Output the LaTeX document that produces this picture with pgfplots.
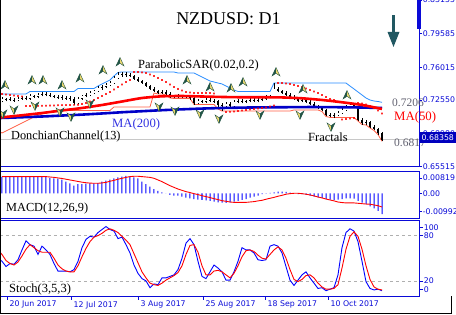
\documentclass[border=0pt]{standalone}
\usepackage{pgfplots}
\pgfplotsset{compat=1.18}
\usepackage{pgfplotstable}
\usepackage{fontspec}
\setmainfont{Liberation Serif}
\newfontfamily\tickfont{DejaVu Sans}
\definecolor{axblue}{RGB}{10,10,215}
\definecolor{boxblue}{RGB}{0,0,190}
\definecolor{ma200c}{RGB}{0,0,200}
\definecolor{ma200t}{RGB}{50,50,225}
\definecolor{ma50c}{RGB}{255,0,0}
\definecolor{donup}{RGB}{40,140,255}
\definecolor{donlo}{RGB}{255,95,70}
\definecolor{fracdark}{RGB}{35,85,70}
\definecolor{fraclight}{RGB}{235,215,110}
\definecolor{arrowc}{RGB}{33,88,98}
\definecolor{labgray}{RGB}{95,95,110}

\pgfdeclareplotmark{fup}{%
  \pgfsetlinewidth{0.4pt}%
  \pgfpathmoveto{\pgfqpoint{0pt}{4.5pt}}\pgfpathlineto{\pgfqpoint{-4pt}{-4pt}}\pgfpathlineto{\pgfqpoint{0pt}{-1.3pt}}\pgfpathclose
  \pgfsetfillcolor{fracdark}\pgfusepath{fill}%
  \pgfpathmoveto{\pgfqpoint{0pt}{4.5pt}}\pgfpathlineto{\pgfqpoint{4pt}{-4pt}}\pgfpathlineto{\pgfqpoint{0pt}{-1.3pt}}\pgfpathclose
  \pgfsetfillcolor{fraclight}\pgfusepath{fill}%
  \pgfpathmoveto{\pgfqpoint{0pt}{4.5pt}}\pgfpathlineto{\pgfqpoint{-4pt}{-4pt}}\pgfpathlineto{\pgfqpoint{0pt}{-1.3pt}}\pgfpathlineto{\pgfqpoint{4pt}{-4pt}}\pgfpathclose
  \pgfsetstrokecolor{fracdark}\pgfusepath{stroke}}
\pgfdeclareplotmark{fdown}{%
  \pgfsetlinewidth{0.4pt}%
  \pgfpathmoveto{\pgfqpoint{0pt}{-4.5pt}}\pgfpathlineto{\pgfqpoint{-4pt}{4pt}}\pgfpathlineto{\pgfqpoint{0pt}{1.3pt}}\pgfpathclose
  \pgfsetfillcolor{fraclight}\pgfusepath{fill}%
  \pgfpathmoveto{\pgfqpoint{0pt}{-4.5pt}}\pgfpathlineto{\pgfqpoint{4pt}{4pt}}\pgfpathlineto{\pgfqpoint{0pt}{1.3pt}}\pgfpathclose
  \pgfsetfillcolor{fracdark}\pgfusepath{fill}%
  \pgfpathmoveto{\pgfqpoint{0pt}{-4.5pt}}\pgfpathlineto{\pgfqpoint{-4pt}{4pt}}\pgfpathlineto{\pgfqpoint{0pt}{1.3pt}}\pgfpathlineto{\pgfqpoint{4pt}{4pt}}\pgfpathclose
  \pgfsetstrokecolor{fracdark}\pgfusepath{stroke}}

\pgfplotstableread{
i o h l c
0 0.7244 0.7282 0.7229 0.7266
1 0.7266 0.7276 0.7239 0.7255
2 0.7255 0.7282 0.7239 0.7260
3 0.7260 0.7276 0.7234 0.7250
4 0.7250 0.7287 0.7239 0.7266
5 0.7266 0.7292 0.7255 0.7276
6 0.7276 0.7292 0.7250 0.7266
7 0.7266 0.7319 0.7255 0.7297
8 0.7297 0.7313 0.7271 0.7287
9 0.7287 0.7324 0.7276 0.7308
10 0.7308 0.7335 0.7292 0.7319
11 0.7319 0.7335 0.7292 0.7308
12 0.7308 0.7324 0.7282 0.7297
13 0.7297 0.7313 0.7271 0.7287
14 0.7287 0.7303 0.7266 0.7282
15 0.7282 0.7308 0.7260 0.7276
16 0.7276 0.7297 0.7255 0.7271
17 0.7271 0.7292 0.7244 0.7266
18 0.7266 0.7282 0.7207 0.7223
19 0.7223 0.7282 0.7213 0.7266
20 0.7266 0.7313 0.7255 0.7297
21 0.7297 0.7329 0.7282 0.7308
22 0.7308 0.7345 0.7297 0.7329
23 0.7329 0.7366 0.7319 0.7350
24 0.7350 0.7403 0.7340 0.7382
25 0.7382 0.7414 0.7366 0.7393
26 0.7393 0.7435 0.7382 0.7414
27 0.7414 0.7456 0.7403 0.7435
28 0.7435 0.7509 0.7425 0.7488
29 0.7488 0.7547 0.7478 0.7520
30 0.7520 0.7552 0.7499 0.7531
31 0.7531 0.7547 0.7499 0.7515
32 0.7515 0.7536 0.7494 0.7509
33 0.7509 0.7525 0.7467 0.7478
34 0.7478 0.7494 0.7446 0.7456
35 0.7456 0.7472 0.7425 0.7435
36 0.7435 0.7446 0.7393 0.7403
37 0.7403 0.7419 0.7361 0.7372
38 0.7372 0.7388 0.7340 0.7350
39 0.7350 0.7366 0.7319 0.7329
40 0.7329 0.7361 0.7319 0.7340
41 0.7340 0.7356 0.7308 0.7319
42 0.7319 0.7335 0.7276 0.7287
43 0.7287 0.7313 0.7271 0.7297
44 0.7297 0.7319 0.7271 0.7287
45 0.7287 0.7313 0.7271 0.7297
46 0.7297 0.7313 0.7271 0.7287
47 0.7287 0.7308 0.7260 0.7276
48 0.7276 0.7287 0.7207 0.7223
49 0.7223 0.7266 0.7213 0.7244
50 0.7244 0.7260 0.7218 0.7234
51 0.7234 0.7271 0.7223 0.7255
52 0.7255 0.7271 0.7229 0.7244
53 0.7244 0.7266 0.7223 0.7239
54 0.7239 0.7255 0.7160 0.7202
55 0.7202 0.7218 0.7138 0.7191
56 0.7191 0.7229 0.7181 0.7213
57 0.7213 0.7229 0.7175 0.7191
58 0.7191 0.7250 0.7181 0.7234
59 0.7234 0.7266 0.7218 0.7244
60 0.7244 0.7266 0.7218 0.7234
61 0.7234 0.7260 0.7223 0.7244
62 0.7244 0.7276 0.7229 0.7255
63 0.7255 0.7271 0.7229 0.7244
64 0.7244 0.7276 0.7229 0.7255
65 0.7255 0.7282 0.7239 0.7266
66 0.7266 0.7303 0.7255 0.7287
67 0.7287 0.7313 0.7271 0.7297
68 0.7297 0.7435 0.7287 0.7372
69 0.7372 0.7393 0.7335 0.7350
70 0.7350 0.7366 0.7319 0.7329
71 0.7329 0.7345 0.7297 0.7308
72 0.7308 0.7324 0.7276 0.7287
73 0.7287 0.7303 0.7255 0.7266
74 0.7266 0.7282 0.7234 0.7244
75 0.7244 0.7271 0.7229 0.7255
76 0.7255 0.7271 0.7223 0.7234
77 0.7234 0.7250 0.7202 0.7213
78 0.7213 0.7229 0.7175 0.7191
79 0.7191 0.7207 0.7160 0.7170
80 0.7170 0.7186 0.7133 0.7149
81 0.7149 0.7160 0.7080 0.7096
82 0.7096 0.7112 0.7070 0.7085
83 0.7085 0.7112 0.7064 0.7096
84 0.7096 0.7133 0.7080 0.7117
85 0.7117 0.7165 0.7107 0.7149
86 0.7149 0.7202 0.7138 0.7181
87 0.7181 0.7223 0.7165 0.7202
88 0.7202 0.7218 0.7170 0.7181
89 0.7181 0.7191 0.7032 0.7043
90 0.7043 0.7059 0.6995 0.7011
91 0.7011 0.7043 0.6990 0.7022
92 0.7022 0.7032 0.6958 0.6969
93 0.6969 0.6985 0.6932 0.6948
94 0.6948 0.6958 0.6889 0.6905
95 0.6905 0.6916 0.6817 0.6836
}\candles

\pgfplotstableread{
i up lo
-0.5 0.7319 0.6915
0 0.7319 0.6905
1 0.7319 0.6926
2 0.7319 0.6948
3 0.7319 0.6969
4 0.7319 0.6990
5 0.7319 0.7011
6 0.7319 0.7032
7 0.7345 0.7054
8 0.7345 0.7075
9 0.7345 0.7091
10 0.7345 0.7107
11 0.7345 0.7117
12 0.7345 0.7128
13 0.7345 0.7144
18 0.7345 0.7144
19 0.7377 0.7144
23 0.7377 0.7144
24 0.7403 0.7144
25 0.7425 0.7144
26 0.7446 0.7144
27 0.7467 0.7144
28 0.7509 0.7181
29 0.7547 0.7181
30 0.7552 0.7181
37 0.7552 0.7181
38 0.7552 0.7329
39 0.7552 0.7319
40 0.7552 0.7319
41 0.7552 0.7308
42 0.7552 0.7276
43 0.7552 0.7271
44 0.7541 0.7271
47 0.7541 0.7271
48 0.7541 0.7207
49 0.7520 0.7207
50 0.7499 0.7207
51 0.7478 0.7207
52 0.7456 0.7207
53 0.7446 0.7207
54 0.7435 0.7160
55 0.7425 0.7138
56 0.7403 0.7138
57 0.7382 0.7138
58 0.7361 0.7138
59 0.7345 0.7138
67 0.7345 0.7138
68 0.7435 0.7138
72 0.7435 0.7138
73 0.7435 0.7149
79 0.7435 0.7149
80 0.7435 0.7133
81 0.7435 0.7080
82 0.7435 0.7070
86 0.7435 0.7070
87 0.7403 0.7070
88 0.7372 0.7070
89 0.7340 0.7032
90 0.7308 0.6995
91 0.7276 0.6990
92 0.7255 0.6958
93 0.7244 0.6932
94 0.7239 0.6889
95 0.7230 0.6817
}\donch

\pgfplotstableread{
i m50 m200
-0.5 0.7069 0.7064
5 0.7093 0.7072
10 0.7117 0.7080
15 0.7144 0.7090
20 0.7170 0.7100
25 0.7202 0.7112
30 0.7239 0.7125
35 0.7276 0.7136
40 0.7294 0.7147
45 0.7297 0.7156
50 0.7292 0.7164
55 0.7287 0.7170
60 0.7284 0.7174
65 0.7284 0.7177
70 0.7282 0.7178
75 0.7273 0.7180
80 0.7255 0.7180
85 0.7231 0.7178
90 0.7202 0.7175
95 0.7160 0.7170
}\mas

\pgfplotstableread{
i s
0 0.7319
1 0.7313
2 0.7308
3 0.7303
4 0.7297
5 0.7292
6 0.7191
7 0.7191
8 0.7192
9 0.7193
10 0.7194
11 0.7195
12 0.7196
13 0.7197
14 0.7199
15 0.7200
16 0.7201
17 0.7202
18 0.7203
19 0.7205
20 0.7213
21 0.7223
22 0.7239
23 0.7255
24 0.7276
25 0.7297
26 0.7319
27 0.7340
28 0.7366
29 0.7393
30 0.7419
31 0.7446
32 0.7467
33 0.7552
34 0.7552
35 0.7547
36 0.7541
37 0.7525
38 0.7509
39 0.7488
40 0.7467
41 0.7446
42 0.7419
43 0.7393
44 0.7372
45 0.7356
46 0.7340
47 0.7334
48 0.7329
49 0.7329
50 0.7329
51 0.7329
52 0.7329
53 0.7324
56 0.7128
57 0.7130
58 0.7133
59 0.7138
60 0.7144
61 0.7149
62 0.7154
63 0.7160
64 0.7165
65 0.7170
66 0.7175
67 0.7186
68 0.7196
69 0.7435
70 0.7435
71 0.7430
72 0.7425
73 0.7414
74 0.7403
75 0.7393
76 0.7377
77 0.7361
78 0.7345
79 0.7329
80 0.7308
81 0.7287
82 0.7266
83 0.7255
84 0.7234
85 0.7048
86 0.7054
87 0.7059
88 0.7064
89 0.7223
90 0.7218
91 0.7207
92 0.7191
93 0.7170
94 0.7144
95 0.7112
}\sar

\pgfplotstableread{
x y
0.75 0.7414
7.5 0.7467
10.25 0.7467
15 0.7414
19.5 0.7488
25.25 0.7573
29.5 0.7658
46.25 0.7467
52 0.7393
57.25 0.7382
60.25 0.7446
68.5 0.7552
75.25 0.7372
86.25 0.7308
}\fracup

\pgfplotstableread{
x y
0.25 0.7107
3 0.7149
8.25 0.7191
14.5 0.7128
17.25 0.7075
22 0.7213
39.25 0.7181
43.25 0.7138
49.5 0.7107
54.25 0.7054
64.5 0.7096
74.5 0.7096
82.25 0.6969
}\fracdown

\pgfplotstableread{
i h s
0 0.0089 0.0090
1 0.0090 0.0090
2 0.0090 0.0090
3 0.0091 0.0090
4 0.0090 0.0090
5 0.0090 0.0090
6 0.0090 0.0090
7 0.0091 0.0090
8 0.0090 0.0090
9 0.0089 0.0090
10 0.0090 0.0090
11 0.0088 0.0090
12 0.0083 0.0088
13 0.0081 0.0086
14 0.0079 0.0083
15 0.0074 0.0080
16 0.0063 0.0076
17 0.0054 0.0072
18 0.0041 0.0068
19 0.0049 0.0064
20 0.0050 0.0060
21 0.0052 0.0057
22 0.0054 0.0055
23 0.0054 0.0054
24 0.0055 0.0054
25 0.0063 0.0056
26 0.0068 0.0059
27 0.0074 0.0065
28 0.0081 0.0070
29 0.0086 0.0076
30 0.0090 0.0081
31 0.0094 0.0086
32 0.0090 0.0090
33 0.0086 0.0092
34 0.0081 0.0092
35 0.0063 0.0090
36 0.0049 0.0088
37 0.0036 0.0086
38 0.0023 0.0081
39 0.0013 0.0072
40 0.0005 0.0063
41 0.0000 0.0052
42 -0.0009 0.0041
43 -0.0013 0.0032
44 -0.0013 0.0023
45 -0.0018 0.0016
46 -0.0023 0.0009
47 -0.0027 0.0004
48 -0.0031 -0.0002
49 -0.0034 -0.0007
50 -0.0036 -0.0013
51 -0.0038 -0.0018
52 -0.0041 -0.0023
53 -0.0045 -0.0029
54 -0.0049 -0.0034
55 -0.0050 -0.0040
56 -0.0052 -0.0043
57 -0.0049 -0.0047
58 -0.0045 -0.0049
59 -0.0041 -0.0049
60 -0.0036 -0.0049
61 -0.0031 -0.0049
62 -0.0023 -0.0047
63 -0.0018 -0.0045
64 -0.0013 -0.0041
65 -0.0005 -0.0038
66 -0.0002 -0.0032
67 0.0002 -0.0027
68 0.0005 -0.0022
69 0.0009 -0.0016
70 0.0009 -0.0011
71 0.0007 -0.0005
72 0.0004 -0.0002
73 0.0000 0.0000
74 -0.0004 0.0000
75 -0.0005 -0.0002
76 -0.0009 -0.0005
77 -0.0013 -0.0009
78 -0.0018 -0.0014
79 -0.0022 -0.0020
80 -0.0025 -0.0025
81 -0.0031 -0.0031
82 -0.0034 -0.0036
83 -0.0036 -0.0041
84 -0.0034 -0.0047
85 -0.0031 -0.0050
86 -0.0027 -0.0052
87 -0.0027 -0.0052
88 -0.0029 -0.0052
89 -0.0041 -0.0054
90 -0.0050 -0.0056
91 -0.0059 -0.0058
92 -0.0070 -0.0059
93 -0.0081 -0.0063
94 -0.0095 -0.0067
95 -0.0113 -0.0074
}\macd

\pgfplotstableread{
i k d
-0.5 48 58
0 46 55
1 39 47
2 43 43
3 42 41
4 48 45
5 61 53
6 73 62
7 68 68
8 66 64
9 55 60
10 66 58
11 61 58
12 55 58
13 43 50
14 33 41
15 33 36
16 33 33
17 32 32
18 35 32
19 46 40
20 64 52
21 75 63
22 79 72
23 78 78
24 84 80
25 88 83
26 92 87
27 88 89
28 86 87
29 76 84
30 78 79
31 68 74
32 57 68
33 41 56
34 30 44
35 23 32
36 20 24
37 11 17
38 16 15
39 15 14
40 24 17
41 24 21
42 26 24
43 28 27
44 35 31
45 50 40
46 70 55
47 76 67
48 68 68
49 46 58
50 26 40
51 23 28
52 32 28
53 41 33
54 37 34
55 32 32
56 21 28
57 21 24
58 32 30
59 46 40
60 64 52
61 61 60
62 61 61
63 57 59
64 48 54
65 47 50
66 48 49
67 66 55
68 68 61
69 66 65
70 57 61
71 39 50
72 21 35
73 14 22
74 21 19
75 28 22
76 32 27
77 24 28
78 17 24
79 10 17
80 11 12
81 7 9
82 9 9
83 11 10
84 28 15
85 64 37
86 84 62
87 89 79
88 86 85
89 72 79
90 46 62
91 19 40
92 10 22
93 8 12
94 9 9
95 7 8
}\stoch

\pgfplotsset{
  panel/.style={
    scale only axis, width=419pt, anchor=south west,
    xmin=-0.5, xmax=104.25,
    axis line style={draw=axblue, line width=0.8pt},
    xtick=\empty,
    ytick pos=upper, yticklabel pos=upper,
    tick align=outside, major tick length=3pt,
    tick style={draw=axblue, line width=0.6pt},
    yticklabel style={font=\tickfont\fontsize{7.8}{9}\selectfont, text=axblue, inner sep=0.6pt},
    scaled y ticks=false,
  },
  bar/.style={draw=none, mark=none, forget plot},
}

\begin{document}
\begin{tikzpicture}[x=1pt,y=1pt]
% ---------- main price panel ----------
\begin{axis}[panel, at={(0pt,148.5pt)}, height=166.5pt,
  ymin=0.6550, ymax=0.8315,
  axis x line*=bottom, axis y line*=right,
  ytick={0.65515,0.6898,0.7255,0.76015,0.79585,0.8315},
  yticklabels={0.65515,0.68980,0.72550,0.76015,0.79585,0.83155}]
\addplot[forget plot, color={rgb,255:red,200;green,200;blue,200}, line width=0.8pt] coordinates {(-0.5,0.68358) (104.25,0.68358)};
\addplot[forget plot, donup, line width=0.8pt] table[x=i, y=up] {\donch};
\addplot[forget plot, donlo, line width=0.8pt] table[x=i, y=lo] {\donch};
% wicks
\addplot[bar, error bars/.cd, y dir=plus, y explicit, error mark=none,
  error bar style={draw=black, line width=0.5pt}]
  table[x=i, y=l, y error plus expr={\thisrow{h}-\thisrow{l}}] {\candles};
% bodies
\addplot[bar, error bars/.cd, y dir=plus, y explicit, error mark=none,
  error bar style={draw=black, line width=2.4pt}]
  table[x=i, y expr={min(\thisrow{o},\thisrow{c})}, y error plus expr={max(abs(\thisrow{c}-\thisrow{o}),0.0007)}] {\candles};
% hollow up bodies
\addplot[bar, restrict expr to domain={\thisrow{c}-\thisrow{o}}{0.0013:1},
  error bars/.cd, y dir=plus, y explicit, error mark=none,
  error bar style={draw=white, line width=1.2pt}]
  table[x=i, y expr={\thisrow{o}+0.0005}, y error plus expr={\thisrow{c}-\thisrow{o}-0.0010}] {\candles};
\addplot[forget plot, ma200c, line width=2.6pt, smooth, tension=0.4] table[x=i, y=m200] {\mas};
\addplot[forget plot, ma50c, line width=2.6pt, smooth, tension=0.4] table[x=i, y=m50] {\mas};
\addplot[forget plot, only marks, mark=x, mark size=1.1pt, red, line width=0.5pt] table[x=i, y=s] {\sar};
\addplot[forget plot, only marks, mark=fup] table[x=x, y=y] {\fracup};
\addplot[forget plot, only marks, mark=fdown] table[x=x, y=y] {\fracdown};
\end{axis}

% ---------- MACD panel ----------
\begin{axis}[panel, at={(0pt,97pt)}, height=47pt,
  ymin=-0.01334, ymax=0.01204,
  ytick={-0.00992,0,0.00819},
  yticklabels={-0.00992,0.00,0.00819}]
\addplot[forget plot, ybar, bar width=1pt, fill=blue, draw=none] table[x=i, y=h] {\macd};
\addplot[forget plot, red, line width=0.9pt] table[x=i, y=s] {\macd};
\end{axis}

% ---------- Stochastic panel ----------
\begin{axis}[panel, at={(0pt,19pt)}, height=75.5pt,
  ymin=0, ymax=100,
  ytick={8.9,20,80,91},
  yticklabels={0,20,80,100},
  xtick={1.25,17.25,34,50.25,65.75,81.5},
  xticklabels={20 Jun 2017,12 Jul 2017,3 Aug 2017,25 Aug 2017,18 Sep 2017,10 Oct 2017},
  xtick pos=lower, xticklabel pos=lower, major tick length=4pt,
  xticklabel style={anchor=north west, font=\tickfont\fontsize{7.8}{9}\selectfont, text=axblue, inner sep=0pt, xshift=2.5pt, yshift=-1pt}]
\addplot[forget plot, color={rgb,255:red,175;green,175;blue,175}, dashed, line width=0.6pt] coordinates {(-0.5,80) (104.25,80)};
\addplot[forget plot, color={rgb,255:red,175;green,175;blue,175}, dashed, line width=0.6pt] coordinates {(-0.5,20) (104.25,20)};
\addplot[forget plot, blue, line width=0.9pt] table[x=i, y=k] {\stoch};
\addplot[forget plot, red, line width=0.9pt] table[x=i, y=d] {\stoch};
\end{axis}

% ---------- texts and decorations ----------
\node[anchor=base, inner sep=0pt, font=\fontsize{18}{20}\selectfont] at (228.5pt,290pt) {NZDUSD: D1};
\node[anchor=base west, inner sep=0pt, font=\fontsize{12.5}{14}\selectfont] at (138pt,246.5pt) {ParabolicSAR(0.02,0.2)};
\node[anchor=base west, inner sep=0pt, font=\fontsize{12.7}{14}\selectfont, text=ma200t] at (112pt,187.5pt) {MA(200)};
\node[anchor=base west, inner sep=0pt, font=\fontsize{12.3}{14}\selectfont] at (11pt,175.5pt) {DonchianChannel(13)};
\node[anchor=base west, inner sep=0pt, font=\fontsize{12.5}{14}\selectfont] at (308pt,173.5pt) {Fractals};
\node[anchor=base west, inner sep=0pt, font=\fontsize{11.5}{13}\selectfont, text=labgray] at (392pt,208.3pt) {0.7206};
\node[anchor=base west, inner sep=0pt, font=\fontsize{12.8}{14}\selectfont, text=ma50c] at (394pt,194.3pt) {MA(50)};
\node[anchor=base west, inner sep=0pt, font=\fontsize{11.5}{13}\selectfont, text=labgray] at (394pt,168.3pt) {0.6817};
\node[anchor=base west, inner sep=0pt, font=\fontsize{12.3}{14}\selectfont] at (6pt,103.5pt) {MACD(12,26,9)};
\node[anchor=base west, inner sep=0pt, font=\fontsize{12.5}{14}\selectfont] at (9pt,22pt) {Stoch(3,5,3)};
% down arrow
\fill[arrowc] (392pt,300pt) rectangle (395pt,281pt);
\fill[arrowc] (387.5pt,283pt) -- (399.5pt,283pt) -- (393.5pt,268pt) -- cycle;
% scroll marker
\fill[axblue] (417pt,315pt) rectangle (420.5pt,286pt);
% current price box
\fill[boxblue] (419.5pt,171.5pt) rectangle (456pt,182.5pt);
\node[anchor=west, inner sep=0pt, font=\tickfont\fontsize{7.8}{9}\selectfont, text=white] at (421.5pt,177pt) {0.68358};
% outer frame
\draw[black, line width=1pt] (0.5pt,315pt) -- (0.5pt,1.5pt) -- (451pt,1.5pt) -- (451pt,19pt);
\pgfresetboundingbox
\path[use as bounding box] (0pt,0pt) rectangle (456pt,315pt);
\end{tikzpicture}
\end{document}
